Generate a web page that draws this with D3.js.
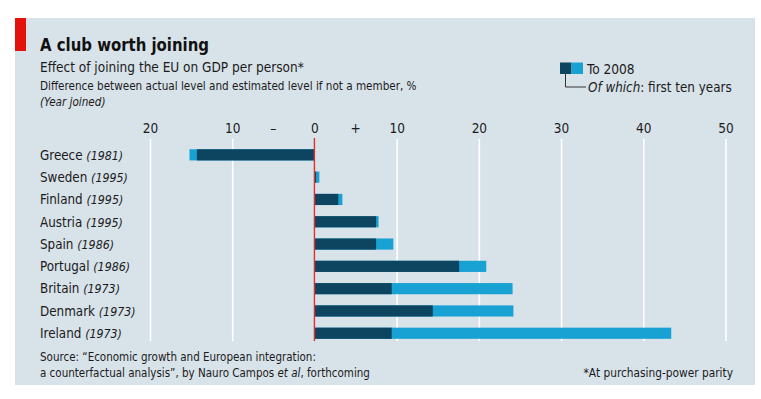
<!DOCTYPE html>
<html><head><meta charset="utf-8">
<script src="https://cdn.jsdelivr.net/npm/d3@7"></script>
<style>
html,body{margin:0;padding:0;background:#fff;}
svg{display:block;}
</style></head>
<body>
<svg id="chart" width="761" height="399"></svg>
<script>
const countries = ["Greece","Sweden","Finland","Austria","Spain","Portugal","Britain","Denmark","Ireland"];
const yearsJoined = ["1981","1995","1995","1995","1986","1986","1973","1973","1973"];
const to2008 = [-15.2, 0.6, 3.4, 7.8, 9.6, 20.9, 24.1, 24.2, 43.4];
const firstTenYears = [-14.3, 0.2, 2.9, 7.5, 7.5, 17.6, 9.4, 14.4, 9.4];
const tickValues = [-20, -10, 0, 10, 20, 30, 40, 50];
const tickLabels = ["20","10","0","10","20","30","40","50"];

// pick a narrow font if one is installed
function hasFont(name){
  const c=document.createElement("canvas").getContext("2d");
  const s="abcdefghijklmnopqrstuvwxyz0123456789";
  c.font="40px monospace"; const a=c.measureText(s).width;
  c.font="40px '"+name+"', monospace"; const b=c.measureText(s).width;
  return Math.abs(a-b)>0.5;
}
const cands=["Liberation Sans Narrow","DejaVu Sans Condensed","Roboto"];
const FONT = "'"+(cands.find(hasFont)||"Roboto")+"', sans-serif";

const svg = d3.select("#chart").style("font-family", FONT);
const ink = "#1b1b1b";

svg.append("rect").attr("x",15).attr("y",18).attr("width",740).attr("height",367).attr("fill","#d8e2e9");
svg.append("rect").attr("x",15).attr("y",18).attr("width",11).attr("height",33).attr("fill","#e3120b");

svg.append("text").attr("x",40).attr("y",51).attr("font-size",18.5).attr("font-weight","bold").attr("fill","#111")
  .attr("textLength",169).attr("lengthAdjust","spacingAndGlyphs").text("A club worth joining");
svg.append("text").attr("x",40).attr("y",72).attr("font-size",13.5).attr("fill",ink).text("Effect of joining the EU on GDP per person*");
svg.append("text").attr("x",40).attr("y",90).attr("font-size",11.6).attr("fill",ink).text("Difference between actual level and estimated level if not a member, %");
svg.append("text").attr("x",40).attr("y",106).attr("font-size",11.6).attr("font-style","italic").attr("fill",ink).text("(Year joined)");

const x = d3.scaleLinear().domain([-20,50]).range([150,725.5]);
const y = d3.scaleBand().domain(countries).range([143.7,344.4]).paddingInner(0.5).paddingOuter(0.25);

// gridlines via axis
const gAxis = svg.append("g").attr("transform","translate(0,139)")
  .call(d3.axisBottom(x).tickValues(tickValues).tickSize(202).tickFormat(""));
gAxis.select(".domain").remove();
gAxis.selectAll(".tick line").attr("stroke","#ffffff").attr("stroke-width",1.6)
  .filter(d=>d===0).remove();

// tick labels
const gLab = svg.append("g").attr("transform","translate(0,133)")
  .call(d3.axisTop(x).tickValues(tickValues).tickSize(0).tickPadding(0).tickFormat((d,i)=>tickLabels[i]));
gLab.select(".domain").remove();
gLab.selectAll("text").attr("font-size",13.5).attr("fill",ink).attr("font-family",FONT).attr("dy",0);
svg.append("text").attr("x",x(-5)).attr("y",133).attr("text-anchor","middle").attr("font-size",13.5).attr("fill",ink).text("–");
svg.append("text").attr("x",x(5)).attr("y",133).attr("text-anchor","middle").attr("font-size",13.5).attr("fill",ink).text("+");

const rows = countries.map((c,i)=>({c, yr:yearsJoined[i], total:to2008[i], ten:firstTenYears[i]}));
const light = "#18a1d3", dark = "#0d4560";

svg.append("g").selectAll("rect").data(rows).join("rect")
  .attr("x",d=>x(Math.min(0,d.total))).attr("width",d=>Math.abs(x(d.total)-x(0)))
  .attr("y",d=>y(d.c)).attr("height",y.bandwidth()).attr("fill",light);
svg.append("g").selectAll("rect").data(rows).join("rect")
  .attr("x",d=>x(Math.min(0,d.ten))).attr("width",d=>Math.abs(x(d.ten)-x(0)))
  .attr("y",d=>y(d.c)).attr("height",y.bandwidth()).attr("fill",dark);

// zero line
svg.append("line").attr("x1",x(0)).attr("x2",x(0)).attr("y1",138).attr("y2",341).attr("stroke","#e0302a").attr("stroke-width",1.4);

// country labels
const lab = svg.append("g").selectAll("text").data(rows).join("text")
  .attr("x",40).attr("y",d=>y(d.c)+y.bandwidth()/2+4.8).attr("font-size",13.3).attr("fill",ink);
lab.append("tspan").text(d=>d.c+" ");
lab.append("tspan").attr("font-style","italic").attr("font-size",12.3).text(d=>"("+d.yr+")");

// legend
svg.append("rect").attr("x",560).attr("y",62.5).attr("width",11.5).attr("height",11.5).attr("fill",dark);
svg.append("rect").attr("x",571.5).attr("y",62.5).attr("width",11.5).attr("height",11.5).attr("fill",light);
svg.append("path").attr("d","M565.5,74V87H586").attr("fill","none").attr("stroke","#333").attr("stroke-width",1);
svg.append("text").attr("x",587).attr("y",74).attr("font-size",13.6).attr("fill",ink).text("To 2008");
const lt = svg.append("text").attr("x",588).attr("y",92).attr("font-size",13.3).attr("fill",ink);
lt.append("tspan").attr("font-style","italic").text("Of which");
lt.append("tspan").text(": first ten years");

// footer
svg.append("text").attr("x",40).attr("y",361).attr("font-size",11.5).attr("fill",ink).text("Source: “Economic growth and European integration:");
const f2 = svg.append("text").attr("x",40).attr("y",377).attr("font-size",11.5).attr("fill",ink);
f2.append("tspan").text("a counterfactual analysis”, by Nauro Campos ");
f2.append("tspan").attr("font-style","italic").text("et al");
f2.append("tspan").text(", forthcoming");
svg.append("text").attr("x",733).attr("y",377).attr("text-anchor","end").attr("font-size",11.8).attr("fill",ink).text("*At purchasing-power parity");
</script>
</body></html>
